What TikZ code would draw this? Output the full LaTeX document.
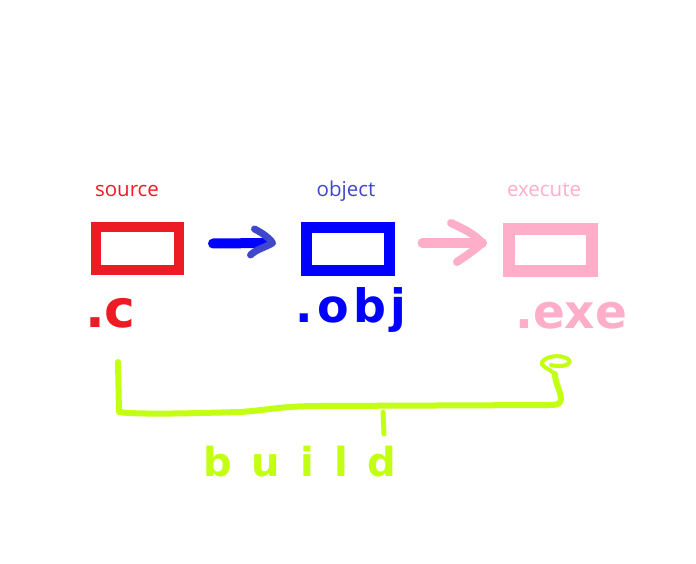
\documentclass[tikz,border=0pt]{standalone}
\usepackage{fontspec}
\setmainfont{Open Sans}
\newfontfamily\hand{DejaVu Sans}
\newfontfamily\handobj{DejaVu Sans}[LetterSpace=10]
\newfontfamily\handsp{DejaVu Sans}[LetterSpace=50]
\definecolor{cred}{HTML}{ED1C24}
\definecolor{cblue}{HTML}{0000FF}
\definecolor{cindigo}{HTML}{3F48CC}
\definecolor{cpink}{HTML}{FFAEC9}
\definecolor{clime}{HTML}{C2FF12}
\tikzset{
  filebox/.style={draw, line width=#1, minimum width=83pt, minimum height=42pt, inner sep=0pt},
  caption/.style={anchor=base, font=\fontsize{20.5}{20.5}\selectfont, inner sep=0pt},
  ext/.style={anchor=base west, inner sep=0pt, font=\hand\bfseries\fontsize{#1}{#1}\selectfont},
  stroke/.style={line width=#1, line cap=round, line join=round},
}
\begin{document}
\begin{tikzpicture}[x=1pt,y=-1pt]
\useasboundingbox[fill=white] (0,0) rectangle (696,564);
% boxes
\node[filebox=10pt, draw=cred] (src) at (137.5,248.5) {};
\node[filebox=11pt, draw=cblue] (obj) at (347.5,249) {};
\node[filebox=12pt, draw=cpink] (exe) at (550.5,250) {};
% captions
\node[caption, text=cred] (srclbl) at (127,197) {source};
\node[caption, text=cindigo] (objlbl) at (346,197) {object};
\node[caption, text=cpink] (exelbl) at (544,197) {execute};
% extensions
\node[ext=52, text=cred] (c) at (85,327) {.c};
\node[anchor=base west, inner sep=0pt, text=cblue, font=\handobj\bfseries\fontsize{46}{46}\selectfont] (o) at (295,322) {.obj};
\node[ext=47, text=cpink] (e) at (515,328) {.exe};
% blue arrow
\coordinate (a1s) at ([shift={(29,-5)}]src.east);
\coordinate (a1e) at ([shift={(-32,-6)}]obj.west);
\draw[stroke=10pt, cblue] (a1s) -- (a1e);
\draw[stroke=7pt, cindigo] ([shift={(-14,-14)}]a1e) .. controls ([shift={(-6,-10)}]a1e) and ([shift={(2,-4)}]a1e) .. ([shift={(4,0)}]a1e)
  .. controls ([shift={(-2,4)}]a1e) and ([shift={(-12,6)}]a1e) .. ([shift={(-18,12)}]a1e);
% pink arrow
\coordinate (a2s) at ([shift={(28,-6)}]obj.east);
\coordinate (a2e) at ([shift={(-21,-7)}]exe.west);
\draw[stroke=10pt, cpink] (a2s) -- (a2e);
\draw[stroke=8pt, cpink] ([shift={(-31,-20)}]a2e) .. controls ([shift={(-18,-14)}]a2e) and ([shift={(-6,-8)}]a2e) .. (a2e)
  .. controls ([shift={(-8,8)}]a2e) and ([shift={(-18,14)}]a2e) .. ([shift={(-25,19)}]a2e);
% build bracket
\coordinate (b0) at (118,362);
\coordinate (b1) at (119,412);
\coordinate (b2) at (560,405);
\coordinate (b3) at (555,374);
\draw[stroke=6pt, clime] (b0) -- (b1) .. controls (140,415) and (200,413) .. (240,412)
  .. controls (270,410) and (280,406) .. (320,406) -- (550,405) .. controls (563,405) and (562,400) .. (559,390)
  .. controls (556,382) and (555,378) .. (b3);
\draw[stroke=4pt, clime] (b3) .. controls (548,368) and (540,366) .. (542,362)
  .. controls (546,356) and (560,354) .. (568,359) .. controls (574,364) and (562,368) .. (551,365);
\draw[stroke=5pt, clime] (383,412) -- (384,434);
\node[anchor=base west, inner sep=0pt, text=clime, font=\handsp\bfseries\fontsize{40}{40}\selectfont] (build) at (203,476) {build};
\end{tikzpicture}
\end{document}
